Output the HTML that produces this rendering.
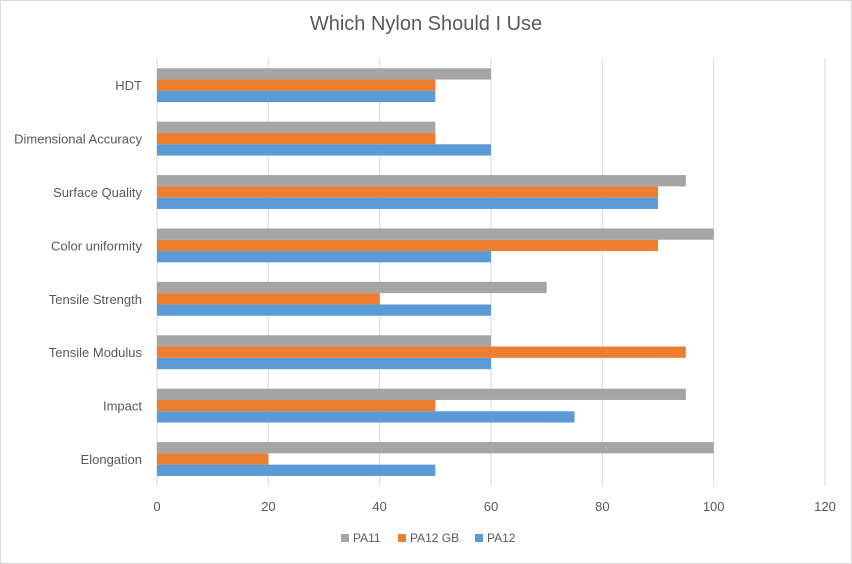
<!DOCTYPE html>
<html><head><meta charset="utf-8">
<style>
html,body{margin:0;padding:0;background:#fff;}
svg{display:block;font-family:"Liberation Sans",sans-serif;}
</style></head>
<body>
<svg id="chart" width="852" height="564" viewBox="0 0 852 564">
<rect x="0.5" y="0.5" width="851" height="563" fill="#fff" stroke="#d9d9d9"/>
<text x="426" y="30" text-anchor="middle" font-size="20" fill="#595959">Which Nylon Should I Use</text>
<g id="grid"></g><g id="bars"></g><g id="labels"></g>
<g>
<rect x="341" y="534" width="8" height="8" fill="#a5a5a5"/>
<text x="353" y="542" font-size="12" fill="#595959">PA11</text>
<rect x="398" y="534" width="8" height="8" fill="#ed7d31"/>
<text x="410" y="542" font-size="12" fill="#595959">PA12 GB</text>
<rect x="475" y="534" width="8" height="8" fill="#5b9bd5"/>
<text x="487" y="542" font-size="12" fill="#595959">PA12</text>
</g>
</svg>
<script>
const categories = ["HDT","Dimensional Accuracy","Surface Quality","Color uniformity","Tensile Strength","Tensile Modulus","Impact","Elongation"];
const pa11 = [60,50,95,100,70,60,95,100];
const pa12gb = [50,50,90,90,40,95,50,20];
const pa12 = [50,60,90,60,60,60,75,50];
const xTicks = [0,20,40,60,80,100,120];

const NS="http://www.w3.org/2000/svg";
const x0=157, x1=825, yTop=58.5, band=53.4, barH=11.3;
const xs=v=>x0+(v/120)*(x1-x0);
const yc=i=>yTop+band*(i+0.5);
function mk(tag,attrs,parent){const e=document.createElementNS(NS,tag);for(const k in attrs)e.setAttribute(k,attrs[k]);parent.appendChild(e);return e;}
const grid=document.getElementById('grid'),bars=document.getElementById('bars'),labels=document.getElementById('labels');
xTicks.forEach(t=>{
  const l=mk('line',{x1:xs(t),x2:xs(t),y1:yTop,y2:yTop+band*categories.length,stroke:'#d9d9d9','stroke-width':1},grid);
  
  
  const tx=mk('text',{x:xs(t),y:511,'text-anchor':'middle','font-size':13,fill:'#595959'},labels);
  tx.textContent=t;
  
  
});
const series=[[pa11,'#a5a5a5','pa11'],[pa12gb,'#ed7d31','pa12gb'],[pa12,'#5b9bd5','pa12']];
categories.forEach((c,i)=>{
  const tx=mk('text',{x:142,y:yc(i)+5,'text-anchor':'end','font-size':13,fill:'#595959'},labels);
  tx.textContent=c;
  
  
  series.forEach((s,j)=>{
    const y=yc(i)-1.5*barH+j*barH;
    const r=mk('rect',{x:xs(0),y:y,width:xs(s[0][i])-xs(0),height:barH,fill:s[1]},bars);
    
    
  });
});
</script>
</body></html>
